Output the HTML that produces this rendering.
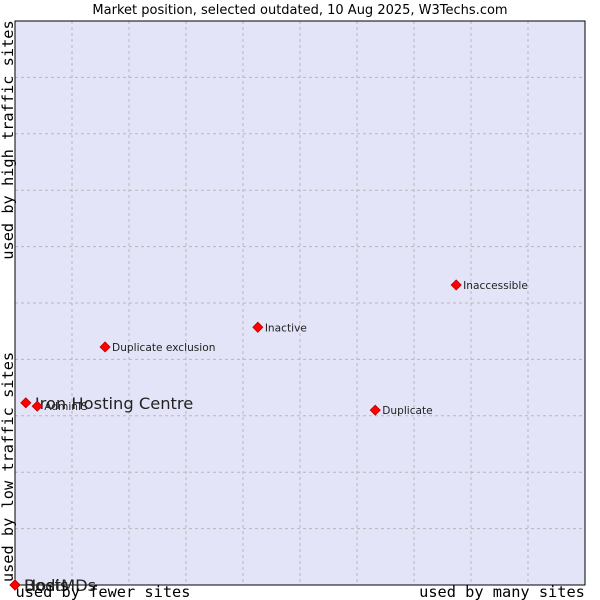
<!DOCTYPE html>
<html><head><meta charset="utf-8"><style>
body{margin:0;background:#fff}
svg{display:block;font-family:"DejaVu Sans","Liberation Sans",sans-serif}
</style></head><body>
<svg id="c" width="600" height="600">
<text x="300" y="14" text-anchor="middle" font-size="13" fill="#000">Market position, selected outdated, 10 Aug 2025, W3Techs.com</text>
<rect x="15" y="21" width="570" height="564" fill="#e4e4f8"/>
<g id="grid"></g>
<rect x="15" y="21" width="570" height="564" fill="none" stroke="#000"/>
<g id="pts"></g>
<text x="103" y="597" text-anchor="middle" font-family="'DejaVu Sans Mono','Liberation Mono',monospace" font-size="15.3">used by fewer sites</text>
<text x="502" y="597" text-anchor="middle" font-family="'DejaVu Sans Mono','Liberation Mono',monospace" font-size="15.3">used by many sites</text>
<text transform="translate(13,467) rotate(-90)" text-anchor="middle" font-family="'DejaVu Sans Mono','Liberation Mono',monospace" font-size="15.3">used by low traffic sites</text>
<text transform="translate(13,140) rotate(-90)" text-anchor="middle" font-family="'DejaVu Sans Mono','Liberation Mono',monospace" font-size="15.3">used by high traffic sites</text>
</svg>
<script>
const names=["Iron Hosting Centre","AdminIS","Duplicate exclusion","Inactive","Inaccessible","Duplicate","Bodis","HostMDs"];
const xVals=[1.9,3.9,15.8,42.6,77.4,63.2,0,0];
const yVals=[32.3,31.7,42.2,45.7,53.2,31.0,0,0];
const bigLabel=[true,false,false,false,false,false,true,true];
const X=v=>15+v/100*570, Y=v=>585-v/100*564;
const NS="http://www.w3.org/2000/svg";
const g=document.getElementById('grid'),p=document.getElementById('pts');
for(let i=1;i<10;i++){
 let l=document.createElementNS(NS,'line');
 
 
 l.setAttribute('x1',X(i*10));l.setAttribute('x2',X(i*10));l.setAttribute('y1',21);l.setAttribute('y2',585);
 l.setAttribute('stroke','#b8b8b8');l.setAttribute('stroke-dasharray','3,3');g.appendChild(l);
 let h=document.createElementNS(NS,'line');
 
 
 h.setAttribute('x1',15);h.setAttribute('x2',585);h.setAttribute('y1',Y(i*10));h.setAttribute('y2',Y(i*10));
 h.setAttribute('stroke','#b8b8b8');h.setAttribute('stroke-dasharray','3,3');g.appendChild(h);
}
names.forEach((n,i)=>{
 const x=X(xVals[i]),y=Y(yVals[i]);
 const m=document.createElementNS(NS,'path');
 
 
 m.setAttribute('d',`M${x-5},${y}L${x},${y-5}L${x+5},${y}L${x},${y+5}Z`);
 m.setAttribute('fill','#ff0000');m.setAttribute('stroke','#b00');m.setAttribute('stroke-width','0.8');p.appendChild(m);
 const t=document.createElementNS(NS,'text');
 
 
 t.setAttribute('x',x+(bigLabel[i]?9:7));t.setAttribute('y',y+(bigLabel[i]?6:4));
 t.setAttribute('font-size',bigLabel[i]?'16.3':'10.6');t.setAttribute('fill','#222');
 t.textContent=n;p.appendChild(t);
});
</script>
</body></html>
